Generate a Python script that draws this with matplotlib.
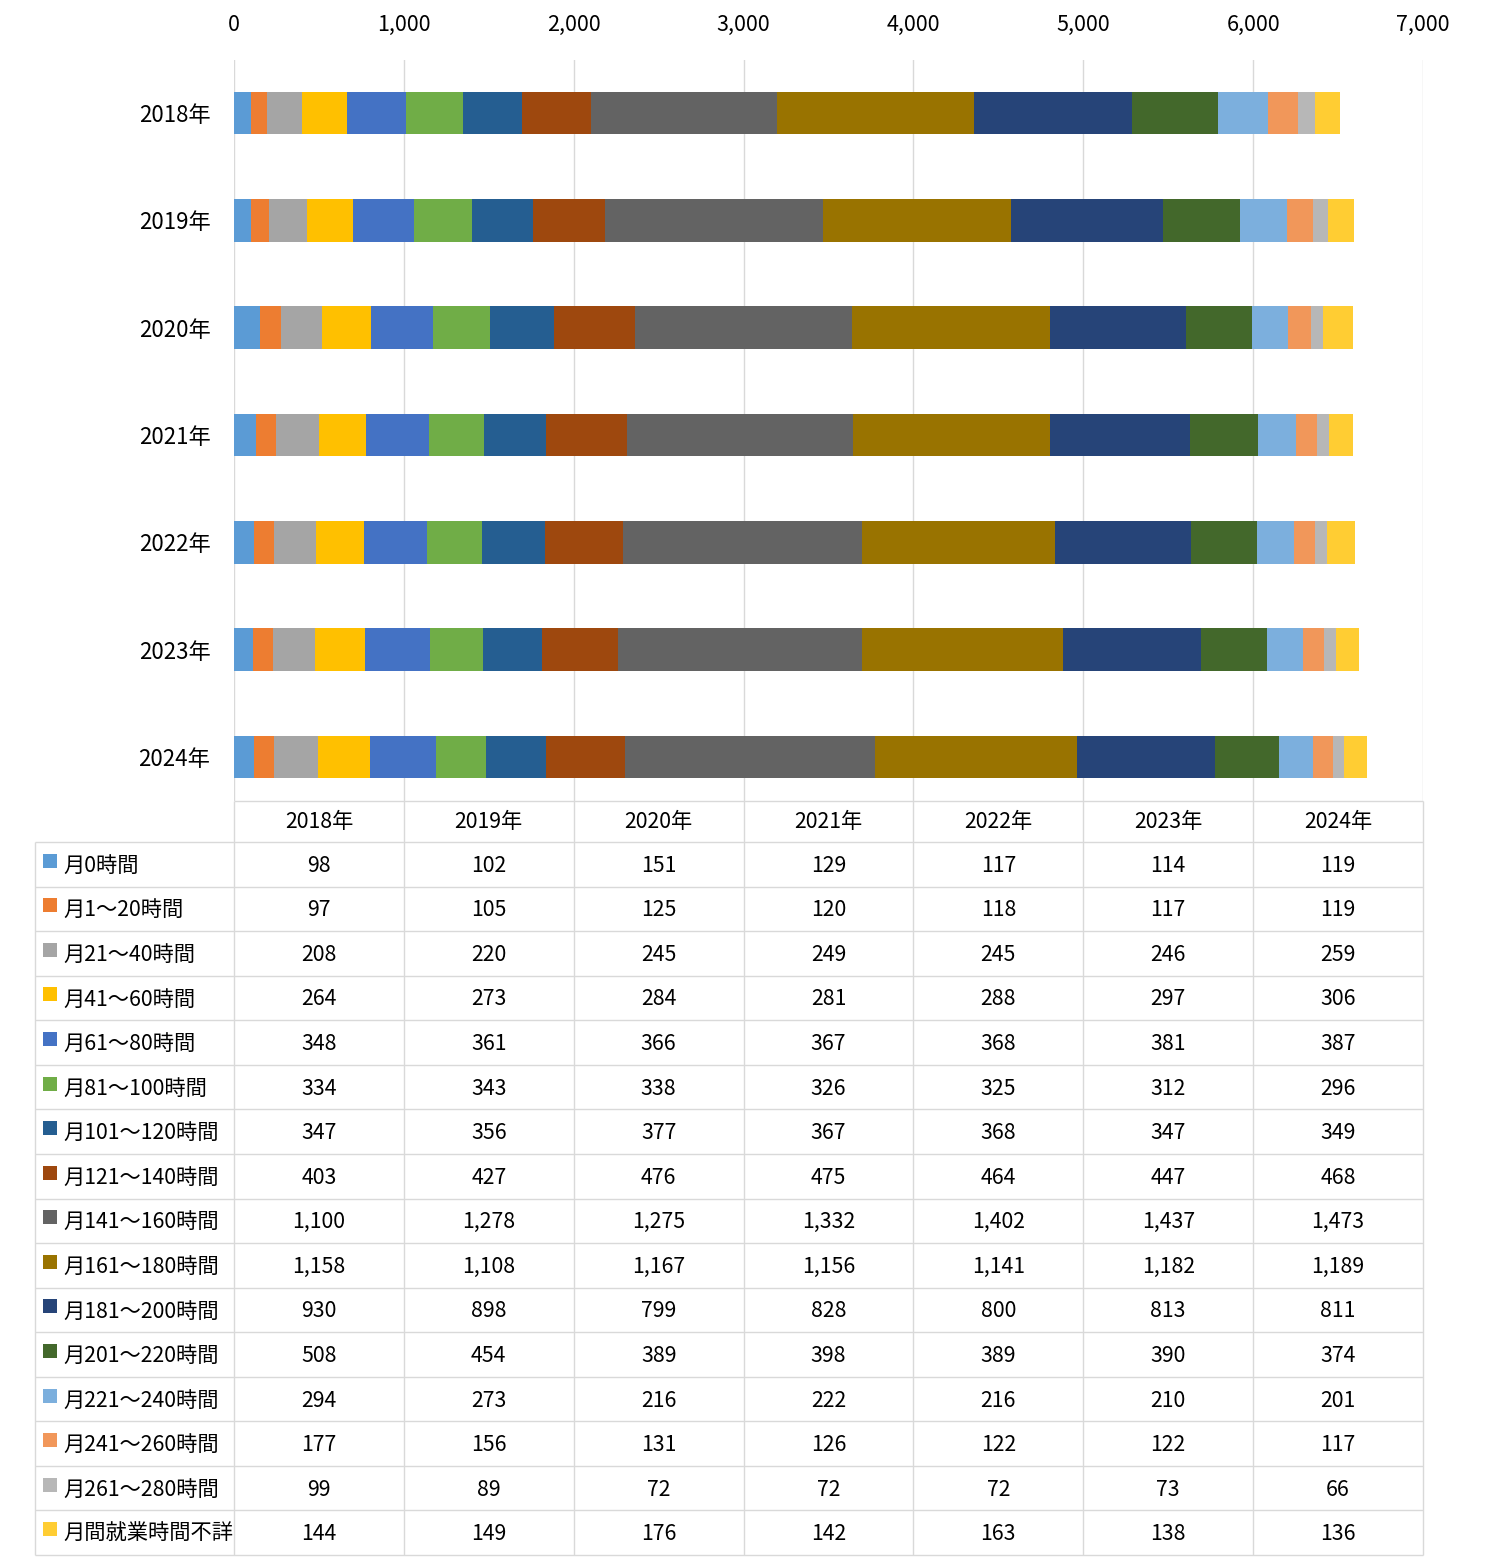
import matplotlib
matplotlib.use("Agg")
import matplotlib.pyplot as plt
import numpy as np

plt.rcParams['font.family'] = ['Noto Sans CJK JP', 'DejaVu Sans']

# Data
years = ['2018年', '2019年', '2020年', '2021年', '2022年', '2023年', '2024年']
categories = ['月0時間', '月1～20時間', '月21～40時間', '月41～60時間', '月61～80時間',
              '月81～100時間', '月101～120時間', '月121～140時間', '月141～160時間',
              '月161～180時間', '月181～200時間', '月201～220時間', '月221～240時間',
              '月241～260時間', '月261～280時間', '月間就業時間不詳']
h0 = [98, 102, 151, 129, 117, 114, 119]
h1_20 = [97, 105, 125, 120, 118, 117, 119]
h21_40 = [208, 220, 245, 249, 245, 246, 259]
h41_60 = [264, 273, 284, 281, 288, 297, 306]
h61_80 = [348, 361, 366, 367, 368, 381, 387]
h81_100 = [334, 343, 338, 326, 325, 312, 296]
h101_120 = [347, 356, 377, 367, 368, 347, 349]
h121_140 = [403, 427, 476, 475, 464, 447, 468]
h141_160 = [1100, 1278, 1275, 1332, 1402, 1437, 1473]
h161_180 = [1158, 1108, 1167, 1156, 1141, 1182, 1189]
h181_200 = [930, 898, 799, 828, 800, 813, 811]
h201_220 = [508, 454, 389, 398, 389, 390, 374]
h221_240 = [294, 273, 216, 222, 216, 210, 201]
h241_260 = [177, 156, 131, 126, 122, 122, 117]
h261_280 = [99, 89, 72, 72, 72, 73, 66]
unknown = [144, 149, 176, 142, 163, 138, 136]

series = [h0, h1_20, h21_40, h41_60, h61_80, h81_100, h101_120, h121_140,
          h141_160, h161_180, h181_200, h201_220, h221_240, h241_260, h261_280, unknown]
colors = ['#5B9BD5', '#ED7D31', '#A5A5A5', '#FFC000', '#4472C4', '#70AD47',
          '#255E91', '#9E480E', '#636363', '#997300', '#264478', '#43682B',
          '#7CAFDD', '#F1975A', '#B7B7B7', '#FFCD33']

W, H = 1500, 1567
fig = plt.figure(figsize=(W / 100, H / 100), dpi=100)

# Chart axes (pixel layout)
x0, x1 = 234, 1423
y_top, y_bot = 60, 801
ax = fig.add_axes([x0 / W, 1 - y_bot / H, (x1 - x0) / W, (y_bot - y_top) / H])

ypos = np.arange(len(years))
left = np.zeros(len(years))
for vals, c, name in zip(series, colors, categories):
    ax.barh(ypos, vals, left=left, height=0.4, color=c, linewidth=0, label=name)
    left += np.array(vals)

ax.set_xlim(0, 7000)
ax.set_ylim(6.41, -0.494)
ax.set_xticks(np.arange(0, 7001, 1000))
ax.xaxis.set_major_formatter(matplotlib.ticker.FuncFormatter(lambda v, p: f"{int(v):,}"))
ax.xaxis.tick_top()
ax.tick_params(axis='x', length=0, labelsize=15.5, pad=17)
ax.set_yticks(ypos)
ax.set_yticklabels(years)
ax.tick_params(axis='y', length=0, labelsize=16, pad=17)
ax.grid(axis='x', color='#D9D9D9', linewidth=1)
ax.set_axisbelow(True)
for s in ax.spines.values():
    s.set_visible(False)

# Data table below the chart
tax = fig.add_axes([0, 0, 1, 1])
tax.set_xlim(0, W)
tax.set_ylim(H, 0)
tax.axis('off')

line_c = '#D9D9D9'
col_w = (x1 - x0) / len(years)
head_top, head_bot = 801, 842
row_h = (1555 - head_bot) / len(categories)
lab_x = 35
fs = 15.3

# header
tax.hlines(head_top, x0, x1, color=line_c, lw=1)
for j, yr in enumerate(years):
    tax.text(x0 + col_w * (j + 0.5), (head_top + head_bot) / 2 + 1, yr,
             ha='center', va='center', fontsize=fs)

# rows
for i, (name, vals, c) in enumerate(zip(categories, series, colors)):
    top = head_bot + i * row_h
    cy = top + row_h / 2 + 1.5
    tax.hlines(top, lab_x, x1, color=line_c, lw=1)
    tax.add_patch(plt.Rectangle((43, cy - 12), 14, 14, color=c, lw=0))
    tax.text(63, cy, name, ha='left', va='center', fontsize=fs)
    for j, v in enumerate(vals):
        tax.text(x0 + col_w * (j + 0.5), cy, f"{v:,}", ha='center', va='center', fontsize=fs)
bottom = head_bot + len(categories) * row_h
tax.hlines(bottom, lab_x, x1, color=line_c, lw=1)

# vertical lines
tax.vlines(lab_x, head_bot, bottom, color=line_c, lw=1)
for j in range(len(years) + 1):
    tax.vlines(x0 + col_w * j, head_top, bottom, color=line_c, lw=1)

fig.savefig('out.png', dpi=100, facecolor='white')
